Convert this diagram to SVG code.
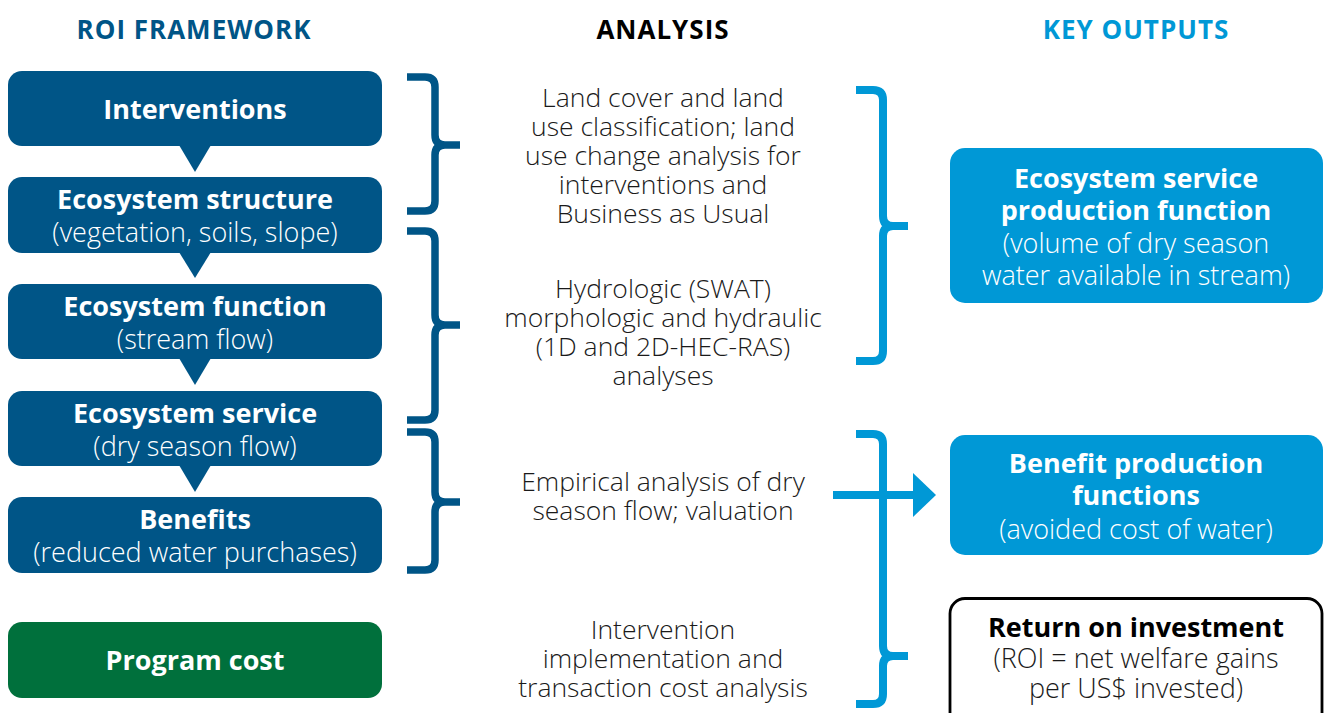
<svg xmlns="http://www.w3.org/2000/svg" width="1326" height="713" viewBox="0 0 1326 713">
<style>
.hd{font-family:"Open Sans","Liberation Sans",sans-serif;font-weight:700;font-size:26px;letter-spacing:1px;text-anchor:middle}
.b{font-family:"Open Sans","Liberation Sans",sans-serif;font-weight:700;font-size:27px;text-anchor:middle;fill:#fff}
.l{font-family:"Open Sans","Liberation Sans",sans-serif;font-weight:300;font-size:27px;text-anchor:middle;fill:#fff}
.m{font-family:"Open Sans","Liberation Sans",sans-serif;font-weight:300;font-size:26.5px;text-anchor:middle;fill:#1a1a1a}
.dk{fill:#005587}
.lt{fill:#0098d6}
.gr{fill:#00703c}
.brd{fill:none;stroke:#005587;stroke-width:7.5}
.brl{fill:none;stroke:#0098d6;stroke-width:8}
</style>
<rect width="1326" height="713" fill="#fff"/>
<g id="headers">
<text class="hd" x="194" y="39" fill="#005587">ROI FRAMEWORK</text>
<text class="hd" x="663" y="39" fill="#000">ANALYSIS</text>
<text class="hd" x="1136" y="39" fill="#0098d6">KEY OUTPUTS</text>
</g>
<g id="connectors">
<polygon class="dk" points="179,145 211,145 195,172"/>
<polygon class="dk" points="179,252 211,252 195,278"/>
<polygon class="dk" points="179,358 211,358 195,385"/>
<polygon class="dk" points="179,465 211,465 195,492"/>
<path class="brd" d="M407,77 H425 Q435,77 435,87 V135 Q435,145 445,145 H460 M445,145 Q435,145 435,155 V201 Q435,211 425,211 H407"/>
<path class="brd" d="M407,231 H425 Q435,231 435,241 V315 Q435,325 445,325 H460 M445,325 Q435,325 435,335 V410 Q435,420 425,420 H407"/>
<path class="brd" d="M407,432 H425 Q435,432 435,442 V492 Q435,502 445,502 H460 M445,502 Q435,502 435,512 V560 Q435,570 425,570 H407"/>
<path class="brl" d="M856,90 H873 Q883,90 883,100 V216 Q883,226 893,226 H908 M893,226 Q883,226 883,236 V351 Q883,361 873,361 H856"/>
<path class="brl" d="M856,434 H873 Q883,434 883,444 V646 Q883,656 893,656 H908 M893,656 Q883,656 883,666 V694 Q883,704 873,704 H856"/>
<line x1="833" y1="495" x2="916" y2="495" stroke="#0098d6" stroke-width="8"/>
<polygon class="lt" points="913,473 936,495 913,517"/>
</g>
<g id="interventions">
<rect class="dk" x="8" y="71" width="374" height="75" rx="14"/>
<text class="b" x="195" y="119">Interventions</text>
</g>
<g id="ecosystem-structure">
<rect class="dk" x="8" y="177" width="374" height="76" rx="14"/>
<text class="b" x="195" y="209">Ecosystem structure</text>
<text class="l" x="195" y="242">(vegetation, soils, slope)</text>
</g>
<g id="ecosystem-function">
<rect class="dk" x="8" y="284" width="374" height="75" rx="14"/>
<text class="b" x="195" y="316">Ecosystem function</text>
<text class="l" x="195" y="349">(stream flow)</text>
</g>
<g id="ecosystem-service">
<rect class="dk" x="8" y="391" width="374" height="75" rx="14"/>
<text class="b" x="195" y="423">Ecosystem service</text>
<text class="l" x="195" y="456">(dry season flow)</text>
</g>
<g id="benefits">
<rect class="dk" x="8" y="497" width="374" height="76" rx="14"/>
<text class="b" x="195" y="529">Benefits</text>
<text class="l" x="195" y="562">(reduced water purchases)</text>
</g>
<g id="program-cost">
<rect class="gr" x="8" y="622" width="374" height="76" rx="14"/>
<text class="b" x="195" y="670">Program cost</text>
</g>
<g id="analysis-land">
<text class="m" x="663"><tspan x="663" y="107">Land cover and land</tspan><tspan x="663" y="136">use classification; land</tspan><tspan x="663" y="165">use change analysis for</tspan><tspan x="663" y="194">interventions and</tspan><tspan x="663" y="223">Business as Usual</tspan></text>
</g>
<g id="analysis-hydro">
<text class="m" x="663"><tspan x="663" y="298">Hydrologic (SWAT)</tspan><tspan x="663" y="327">morphologic and hydraulic</tspan><tspan x="663" y="356">(1D and 2D-HEC-RAS)</tspan><tspan x="663" y="385">analyses</tspan></text>
</g>
<g id="analysis-empirical">
<text class="m" x="663"><tspan x="663" y="491">Empirical analysis of dry</tspan><tspan x="663" y="520">season flow; valuation</tspan></text>
</g>
<g id="analysis-cost">
<text class="m" x="663"><tspan x="663" y="639">Intervention</tspan><tspan x="663" y="668">implementation and</tspan><tspan x="663" y="697">transaction cost analysis</tspan></text>
</g>
<g id="es-production">
<rect class="lt" x="950" y="148" width="373" height="155" rx="15"/>
<text class="b" x="1136" y="188">Ecosystem service</text>
<text class="b" x="1136" y="220">production function</text>
<text class="l" x="1136" y="253">(volume of dry season</text>
<text class="l" x="1136" y="285">water available in stream)</text>
</g>
<g id="benefit-production">
<rect class="lt" x="950" y="435" width="373" height="120" rx="15"/>
<text class="b" x="1136" y="473">Benefit production</text>
<text class="b" x="1136" y="505">functions</text>
<text class="l" x="1136" y="539">(avoided cost of water)</text>
</g>
<g id="roi">
<rect x="950" y="598.5" width="372" height="130" rx="15" fill="#fff" stroke="#000" stroke-width="2.8"/>
<text class="b" x="1136" y="637" style="fill:#000">Return on investment</text>
<text class="l" x="1136" y="668" style="fill:#1a1a1a">(ROI = net welfare gains</text>
<text class="l" x="1136" y="698" style="fill:#1a1a1a">per US$ invested)</text>
</g>
</svg>
